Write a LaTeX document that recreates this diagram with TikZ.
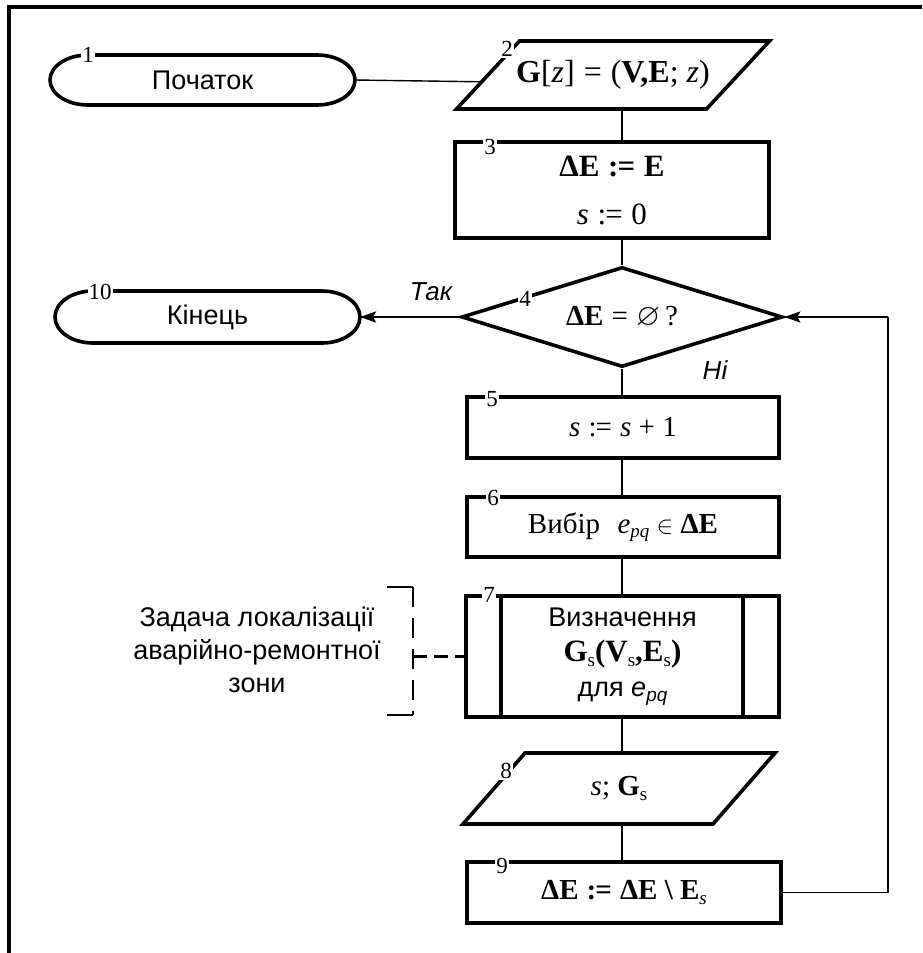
\documentclass[tikz,border=0pt]{standalone}
\usepackage{fontspec}
\usepackage{amssymb}
\setmainfont{Liberation Sans}
\newfontfamily\tms{Liberation Serif}
\usetikzlibrary{shapes.geometric,arrows.meta,calc}

% lowered small index
\newcommand\sbs[1]{\raisebox{-0.35ex}{\fontsize{19}{19}\selectfont #1}}
% relation signs with wide spacing
\newcommand\asg{\hspace{0.28em}:\kern-1pt=\hspace{0.28em}}
\newcommand\eqs{\hspace{0.28em}=\hspace{0.28em}}

\begin{document}
\begin{tikzpicture}[x=1pt,y=-1pt,
  shapeline/.style={line width=3.6pt},
  conn/.style={line width=1.4pt},
  arrowline/.style={line width=2.4pt,-{Stealth[length=16pt,width=11pt,inset=3pt]}},
  inv/.style={inner sep=0pt,outer sep=0pt},
  box/.style={draw,line width=3.6pt,inner sep=0pt},
  sansf/.style={font=\fontsize{27}{34}\selectfont},
  mathf/.style={font=\tms\fontsize{29}{32}\selectfont},
  numlab/.style={fill=white,inner sep=1pt,font=\tms\fontsize{23}{23}\selectfont},
  answer/.style={font=\itshape\fontsize{26}{26}\selectfont},
  brk/.style={line width=2.2pt}
]
\useasboundingbox (0,0) rectangle (922,953);
\fill[white] (0,0) rectangle (922,953);

% page frame
\draw[line width=3.4pt] (922,7) -- (9,7) -- (9,953);

% 1: start terminal
\node[inv,sansf,minimum width=305pt,minimum height=50pt] (t1) at (202.5,80) {Початок};
\draw[shapeline] ([xshift=38pt]t1.north west) -- ([xshift=-38pt]t1.north east)
  arc[start angle=90,end angle=-90,x radius=38pt,y radius=25pt]
  -- ([xshift=38pt]t1.south west)
  arc[start angle=270,end angle=90,x radius=38pt,y radius=25pt] -- cycle;
\node[numlab] at (88,55) {1};

% 2: input
\node[inv,font=\tms\fontsize{32}{34}\selectfont,minimum width=313pt,minimum height=68pt] (p2) at (613,75)
  {{\bfseries G}[{\itshape z}]\eqs({\bfseries V,E}; {\itshape z})};
\draw[shapeline] ([xshift=63pt]p2.north west) -- (p2.north east)
  -- ([xshift=-63pt]p2.south east) -- (p2.south west) -- cycle;
\path (p2.south west) -- ([xshift=63pt]p2.north west) coordinate[pos=0.4] (p2in);
\node[numlab] at (507,49) {2};

% 3: initialisation
\node[box,align=center,font=\tms\fontsize{31}{48}\selectfont,
      minimum width=314pt,minimum height=96pt] (b3) at (612,190)
  {{\bfseries ΔE\asg E}\\{\itshape s}\asg 0};
\node[numlab] at (490,147) {3};

% 4: decision
\node[diamond,draw,line width=3.6pt,shape aspect=3.2,inner sep=0pt,
      minimum width=321pt,minimum height=100pt,mathf] (d4) at (622,317)
  {{\bfseries ΔE}\eqs{\fontsize{31}{31}\selectfont$\varnothing$}\,?};
\node[numlab] at (525,299) {4};

% 10: end terminal
\node[inv,sansf,minimum width=305pt,minimum height=52pt] (t10) at (207.5,317) {Кінець};
\draw[shapeline] ([xshift=38pt]t10.north west) -- ([xshift=-38pt]t10.north east)
  arc[start angle=90,end angle=-90,x radius=38pt,y radius=26pt]
  -- ([xshift=38pt]t10.south west)
  arc[start angle=270,end angle=90,x radius=38pt,y radius=26pt] -- cycle;
\node[numlab] at (100,292) {10};

% 5: counter
\node[box,mathf,minimum width=312pt,minimum height=61pt] (b5) at (623,427.5)
  {{\itshape s}\asg{\itshape s} + 1};
\node[numlab] at (492,399) {5};

% 6: edge choice
\node[box,mathf,minimum width=312pt,minimum height=60pt] (b6) at (623,527)
  {Вибір\hspace{0.6em}{\itshape e}\sbs{\itshape pq}\ $\in$ {\bfseries ΔE}};
\node[numlab] at (493,498) {6};

% 7: predefined process
\node[box,align=center,font=\fontsize{27}{35}\selectfont,
      minimum width=313pt,minimum height=121pt] (b7) at (622.5,656.5)
  {Визначення\\
   {\tms\fontsize{31}{35}\selectfont\bfseries G\sbs{\mdseries s}(V\sbs{\mdseries s},E\sbs{\mdseries s})}\\
   для {\itshape e\sbs{pq}}};
\draw[shapeline] ([xshift=37pt]b7.north west) -- ([xshift=37pt]b7.south west);
\draw[shapeline] ([xshift=-38pt]b7.north east) -- ([xshift=-38pt]b7.south east);
\node[numlab] at (489,595) {7};

% 8: output
\node[inv,mathf,minimum width=312pt,minimum height=71pt] (p8) at (619,788.5)
  {{\itshape s}; {\bfseries G\sbs{\mdseries s}}};
\draw[shapeline] ([xshift=62pt]p8.north west) -- (p8.north east)
  -- ([xshift=-62pt]p8.south east) -- (p8.south west) -- cycle;
\node[numlab] at (506,771) {8};

% 9: update
\node[box,mathf,minimum width=314pt,minimum height=61pt] (b9) at (624,892.5)
  {{\bfseries ΔE\asg ΔE \textbackslash\ E\sbs{\mdseries\itshape s}}};
\node[numlab] at (502,866) {9};

% connectors along the main column
\draw[conn] (t1.east) -- (p2in);
\draw[conn] (p2.south -| d4.north) -- (b3.north -| d4.north);
\draw[conn] (b3.south -| d4.north) -- (d4.north);
\draw[conn] (d4.south) -- (b5.north -| d4.south);
\draw[conn] (b5.south -| d4.south) -- (b6.north -| d4.south);
\draw[conn] (b6.south -| d4.south) -- (b7.north -| d4.south);
\draw[conn] (b7.south -| d4.south) -- (p8.north -| d4.south);
\draw[conn] (p8.south -| d4.south) -- (b9.north -| d4.south);

% yes branch
\draw[arrowline] (d4.west) -- (t10.east);
\node[answer] at (431,292) {Так};
\node[answer] at (715,370) {Ні};

% loop back
\coordinate (rc) at (888,317);
\draw[conn] (b9.east) -| (rc);
\draw[arrowline] (rc) -- (d4.east);

% annotation
\node[align=center,font=\fontsize{27}{33}\selectfont] (note) at (257,650)
  {Задача локалізації\\аварійно-ремонтної\\зони};
\coordinate (bt) at (413,587);
\coordinate (bb) at (413,715);
\draw[brk] (387,587) -- (bt);
\draw[brk] (387,715) -- (bb);
\draw[brk,dash pattern=on 20pt off 11pt] (bt) -- (bb);
\draw[brk,dash pattern=on 14pt off 7pt] (b7.west -| bt) -- (b7.west);
\end{tikzpicture}
\end{document}
